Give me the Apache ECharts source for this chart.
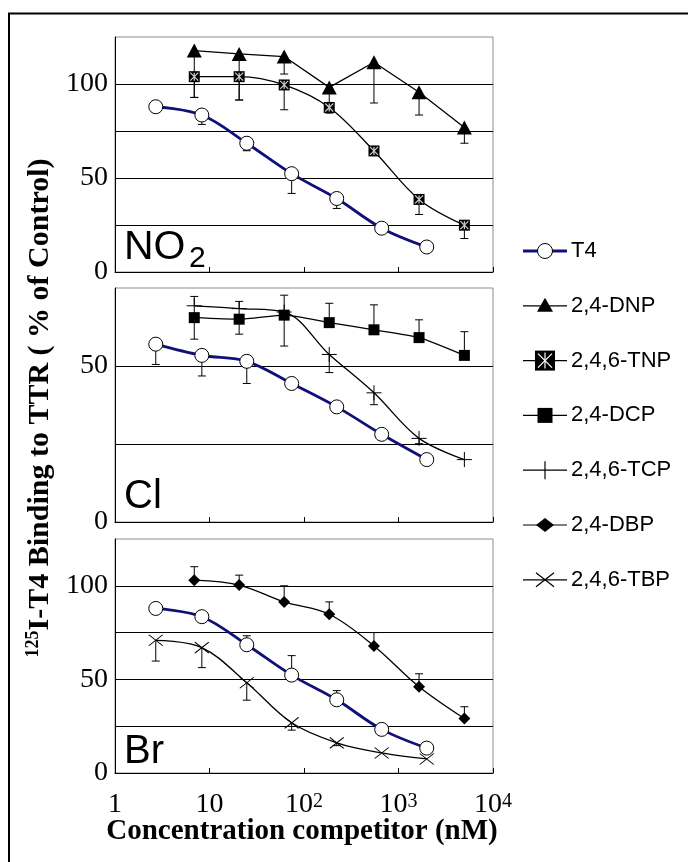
<!DOCTYPE html>
<html><head><meta charset="utf-8">
<script src="https://cdn.jsdelivr.net/npm/echarts@6/dist/echarts.min.js"></script>
<style>html,body{margin:0;padding:0;background:#fff;}#c{width:688px;height:862px;}</style>
</head><body><div id="c"></div>
<script>
// ---- data ----
const xT4  = [2.7, 8.3, 24.8, 74, 222, 664, 1990];
const xCmp = [6.9, 20.6, 61.7, 185, 550, 1650, 4980];
const xTickLabels = ['1', '10', '10{s|2}', '10{s|3}', '10{s|4}'];

const t4      = [87.9, 83.5, 68.5, 52.3, 39.1, 23.3, 13.3];
const t4ErrNO2 = [0, -5, -4, -10.5, -5.3, 0, 0];
const dnp     = [117.8, 116.0, 114.6, 98.2, 111.6, 95.6, 76.9];
const dnpErr  = [-25, -24.5, -9.3, -8, -21.7, -12.1, -8.4];
const tnp     = [103.9, 103.9, 99.5, 87.5, 64.4, 38.6, 24.9];
const tnpErr  = [-11, -12.4, -13.2, -3, 0, -8, -7.1];

const t4Cl    = [57.0, 53.4, 51.5, 44.4, 36.9, 28.1, 20.0];
const t4ErrCl = [-6.5, -6.6, -7.1, 0, 0, 0, 0];
const dcp     = [65.5, 65.0, 66.3, 63.9, 61.6, 59.1, 53.4];
const dcpErr  = [-6.9, -4.8, -9.9, 6.2, 8, 5.7, 7.6];
const tcp     = [69.3, 68.4, 67.3, 53.7, 41.4, 26.8, 20.0];
const tcpErr  = [3, 2.3, 5.4, -5.8, -3.8, -1.7, 0];

const t4ErrBr = [0, 2.6, 4.8, 10.4, 4.9, 0, 0];
const dbp     = [103.0, 100.4, 91.4, 84.8, 67.9, 46.1, 29.1];
const dbpErr  = [7.2, 5.3, 8.6, 6.6, 7.1, 6.9, 6.3];
const tbp     = [70.9, 67.0, 48.2, 26.8, 16.1, 10.7, 7.5];
const tbpErr  = [-11.1, -10.7, -9.3, -3.9, -1.5, 0, 0];

const yMax = [125, 75, 125];
const yShownLabels = [[0, 50, 100], [0, 50], [0, 50, 100]];
const legendNames = ['T4', '2,4-DNP', '2,4,6-TNP', '2,4-DCP', '2,4,6-TCP', '2,4-DBP', '2,4,6-TBP'];
const legendMarkers = ['circle', 'triangle', 'tnp', 'rect', 'plus', 'diamond', 'cross'];

// ---- styling ----
const SERIF = '"Liberation Serif", "Times New Roman", serif';
const SANS = '"Liberation Sans", Arial, sans-serif';
const NAVY = '#10107a';
const PLUS = 'path://M0 5L10 5M5 0L5 10';
const CROSS = 'path://M0 0L10 10M10 0L0 10';
const STAR = 'path://M0 0L10 10M10 0L0 10M5 0L5 10';

const chart = echarts.init(document.getElementById('c'));

const gridDefs = [{top: 37, height: 235}, {top: 288, height: 234}, {top: 539, height: 234}];
const grids = gridDefs.map(g => ({left: 115, width: 378, top: g.top, height: g.height,
  show: true, borderColor: '#8c8c8c', borderWidth: 1, backgroundColor: '#fff'}));

const xAxes = [0, 1, 2].map(i => ({
  type: 'log', logBase: 10, min: 1, max: 10000, gridIndex: i, splitNumber: 4,
  axisLine: {show: true, onZero: false, lineStyle: {color: '#000', width: 1}},
  axisTick: {show: true, inside: true, length: 5, lineStyle: {color: '#000'}},
  splitLine: {show: false},
  axisLabel: {show: i === 2, margin: 19, color: '#000', fontFamily: SERIF, fontSize: 28, lineHeight: 26,
    formatter: v => xTickLabels[Math.round(Math.log10(v))],
    rich: {s: {fontFamily: SERIF, fontSize: 20, lineHeight: 20, verticalAlign: 'top', color: '#000'}}}
}));

const yAxes = [0, 1, 2].map(i => ({
  type: 'value', min: 0, max: yMax[i], interval: 25, gridIndex: i,
  axisLine: {show: true, onZero: false, lineStyle: {color: '#000', width: 1}},
  axisTick: {show: false},
  splitLine: {show: true, showMinLine: false, showMaxLine: false, lineStyle: {color: '#000', width: 1}},
  axisLabel: {margin: 7, color: '#000', fontFamily: SERIF, fontSize: 28,
    formatter: v => yShownLabels[i].includes(v) ? String(v) : ''}
}));

function lineS(gi, xs, ys, o) {
  return Object.assign({
    type: 'line', xAxisIndex: gi, yAxisIndex: gi, z: 3, silent: true,
    data: xs.map((x, k) => [x, ys[k]]),
    smooth: 0.35, showAllSymbol: true,
    lineStyle: {color: '#000', width: 1.3},
  }, o);
}
function errS(gi, xs, ys, errs) {
  return {
    type: 'custom', xAxisIndex: gi, yAxisIndex: gi, z: 2, silent: true,
    data: xs.map((x, k) => [x, ys[k], errs[k]]),
    encode: {x: 0, y: 1},
    renderItem: (p, api) => {
      const x = api.value(0), y = api.value(1), e = api.value(2);
      if (!e) return null;
      const a = api.coord([x, y]), b = api.coord([x, y + e]);
      const st = {stroke: '#000', lineWidth: 1};
      return {type: 'group', children: [
        {type: 'line', shape: {x1: a[0], y1: a[1], x2: b[0], y2: b[1]}, style: st},
        {type: 'line', shape: {x1: b[0] - 4, y1: b[1], x2: b[0] + 4, y2: b[1]}, style: st}
      ]};
    }
  };
}
const circ = {symbol: 'circle', symbolSize: 14, itemStyle: {color: '#fff', borderColor: '#000', borderWidth: 1},
  lineStyle: {color: NAVY, width: 2.8}};
const tri = {symbol: 'triangle', symbolSize: [15, 14], itemStyle: {color: '#000'}, smooth: false};
const sq = {symbol: 'rect', symbolSize: 11, itemStyle: {color: '#000'}};
const plus = {symbol: PLUS, symbolSize: 15, itemStyle: {color: 'none', borderColor: '#000', borderWidth: 1}};
const dia = {symbol: 'diamond', symbolSize: [12, 12], itemStyle: {color: '#000'}};
const cross = {symbol: CROSS, symbolSize: [14, 11], itemStyle: {color: 'none', borderColor: '#000', borderWidth: 1}};

const series = [
  // NO2 panel
  errS(0, xT4, t4, t4ErrNO2), errS(0, xCmp, dnp, dnpErr), errS(0, xCmp, tnp, tnpErr),
  lineS(0, xCmp, dnp, tri),
  lineS(0, xCmp, tnp, sq),
  {type: 'scatter', xAxisIndex: 0, yAxisIndex: 0, z: 5, silent: true, symbol: STAR, symbolSize: 8,
   itemStyle: {color: 'none', borderColor: '#fff', borderWidth: 1.2}, data: xCmp.map((x, k) => [x, tnp[k]])},
  lineS(0, xT4, t4, circ),
  // Cl panel
  errS(1, xT4, t4Cl, t4ErrCl), errS(1, xCmp, dcp, dcpErr), errS(1, xCmp, tcp, tcpErr),
  lineS(1, xCmp, dcp, Object.assign({}, sq, {smooth: 0.2})),
  lineS(1, xCmp, tcp, plus),
  lineS(1, xT4, t4Cl, circ),
  // Br panel
  errS(2, xT4, t4, t4ErrBr), errS(2, xCmp, dbp, dbpErr), errS(2, xT4, tbp, tbpErr),
  lineS(2, xCmp, dbp, dia),
  lineS(2, xT4, tbp, cross),
  lineS(2, xT4, t4, circ),
];

// ---- legend drawn as graphics ----
function marker(type, cx, cy) {
  const k = {fill: '#000'};
  const ln = (x1, y1, x2, y2, c) => ({type: 'line', shape: {x1, y1, x2, y2}, style: {stroke: c || '#000', lineWidth: 1.2}});
  switch (type) {
    case 'circle': return [{type: 'circle', shape: {cx, cy, r: 7.5}, style: {fill: '#fff', stroke: '#000', lineWidth: 1}}];
    case 'triangle': return [{type: 'polygon', shape: {points: [[cx, cy - 8], [cx + 8, cy + 6], [cx - 8, cy + 6]]}, style: k}];
    case 'tnp': return [{type: 'rect', shape: {x: cx - 10, y: cy - 10, width: 20, height: 20}, style: k},
      ln(cx - 7, cy - 7, cx + 7, cy + 7, '#fff'), ln(cx + 7, cy - 7, cx - 7, cy + 7, '#fff'), ln(cx, cy - 8, cx, cy + 8, '#fff')];
    case 'rect': return [{type: 'rect', shape: {x: cx - 7.5, y: cy - 7.5, width: 15, height: 15}, style: k}];
    case 'plus': return [ln(cx, cy - 9, cx, cy + 9)];
    case 'diamond': return [{type: 'polygon', shape: {points: [[cx, cy - 7], [cx + 9, cy], [cx, cy + 7], [cx - 9, cy]]}, style: k}];
    case 'cross': return [ln(cx - 9, cy - 7, cx + 9, cy + 7), ln(cx + 9, cy - 7, cx - 9, cy + 7)];
  }
  return [];
}
const legendEls = [];
legendNames.forEach((name, i) => {
  const y = 251 + i * 54.8;
  const isT4 = i === 0;
  legendEls.push({type: 'line', shape: {x1: 523, y1: y, x2: 567, y2: y},
    style: {stroke: isT4 ? NAVY : '#000', lineWidth: isT4 ? 3 : 1.2}});
  marker(legendMarkers[i], 545, y).forEach(m => legendEls.push(m));
  legendEls.push({type: 'text', x: 571, y: y, style: {text: name, fontFamily: SANS, fontSize: 22,
    fill: '#000', align: 'left', verticalAlign: 'middle'}});
});

const graphic = [
  {type: 'rect', shape: {x: 9, y: 13.5, width: 720, height: 900}, style: {fill: 'none', stroke: '#000', lineWidth: 2}, z: 100},
  // panel labels
  {type: 'text', x: 124, y: 248, style: {text: 'NO', fontFamily: SANS, fontSize: 41, fill: '#000', verticalAlign: 'middle'}, z: 100},
  {type: 'text', x: 189, y: 259, style: {text: '2', fontFamily: SANS, fontSize: 30, fill: '#000', verticalAlign: 'middle'}, z: 100},
  {type: 'text', x: 124, y: 497, style: {text: 'Cl', fontFamily: SANS, fontSize: 40, fill: '#000', verticalAlign: 'middle'}, z: 100},
  {type: 'text', x: 124, y: 752, style: {text: 'Br', fontFamily: SANS, fontSize: 40, fill: '#000', verticalAlign: 'middle'}, z: 100},
  // axis titles
  {type: 'text', x: 302, y: 832, style: {text: 'Concentration competitor (nM)', fontFamily: SERIF, fontWeight: 'bold',
    fontSize: 29, fill: '#000', align: 'center', verticalAlign: 'middle'}, z: 100},
  {type: 'text', x: 40, y: 408, rotation: Math.PI / 2, style: {text: '{sup|125}I-T4 Binding to TTR ( % of Control)',
    fontFamily: SERIF, fontWeight: 'bold', fontSize: 30, lineHeight: 32, fill: '#000', align: 'center', verticalAlign: 'middle',
    rich: {sup: {fontFamily: SERIF, fontWeight: 'bold', fontSize: 18, lineHeight: 18, verticalAlign: 'top', fill: '#000'}}}, z: 100},
  {type: 'group', children: legendEls, z: 100}
];

chart.setOption({
  animation: false,
  backgroundColor: '#fff',
  grid: grids, xAxis: xAxes, yAxis: yAxes, series: series, graphic: graphic
});
</script></body></html>
